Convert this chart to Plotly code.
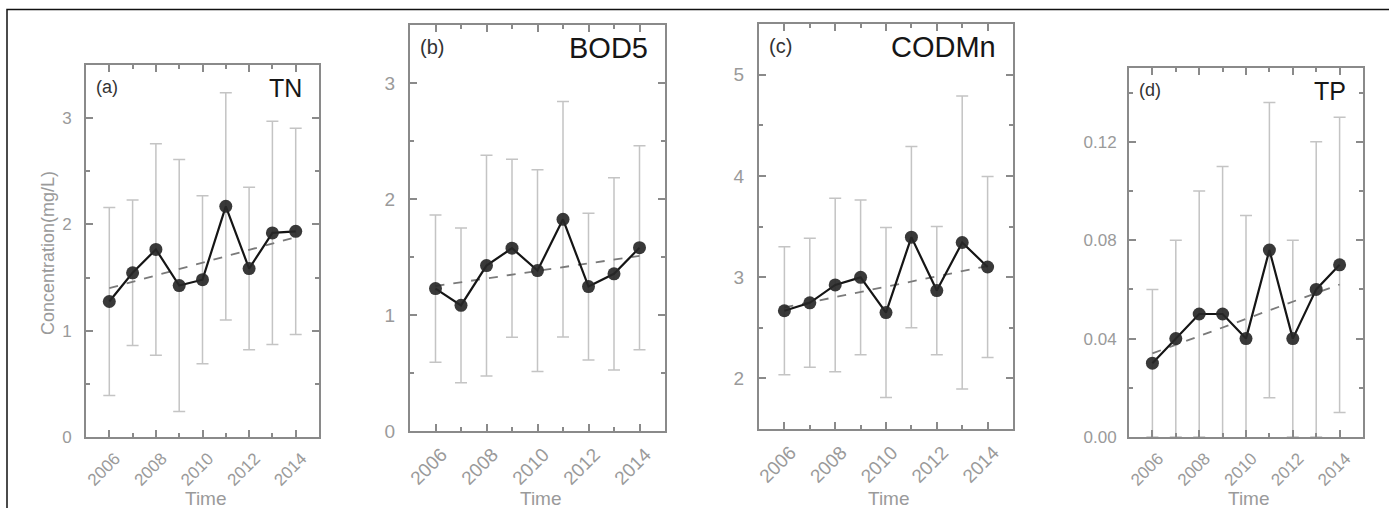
import plotly.graph_objects as go

W, H = 1389, 508

years = [2006, 2007, 2008, 2009, 2010, 2011, 2012, 2013, 2014]
trend_years = [2006, 2014]

tn_mean = [1.275, 1.545, 1.765, 1.425, 1.48, 2.17, 1.585, 1.92, 1.935]
tn_sd = [0.885, 0.685, 0.995, 1.185, 0.79, 1.07, 0.765, 1.05, 0.97]
tn_trend = [1.40, 1.88]

bod_mean = [1.228, 1.083, 1.426, 1.576, 1.383, 1.825, 1.245, 1.355, 1.58]
bod_sd = [0.635, 0.667, 0.952, 0.767, 0.87, 1.015, 0.632, 0.829, 0.88]
bod_trend = [1.25, 1.51]

cod_mean = [2.668, 2.746, 2.923, 2.998, 2.65, 3.395, 2.867, 3.342, 3.10]
cod_sd = [0.632, 0.637, 0.857, 0.764, 0.84, 0.895, 0.633, 1.447, 0.893]
cod_trend = [2.70, 3.11]

tp_mean = [0.030, 0.040, 0.050, 0.050, 0.040, 0.076, 0.040, 0.060, 0.070]
tp_sd = [0.030, 0.040, 0.050, 0.060, 0.050, 0.060, 0.040, 0.060, 0.060]
tp_trend = [0.034, 0.062]

panel_tags = ["(a)", "(b)", "(c)", "(d)"]
panel_names = ["TN", "BOD5", "CODMn", "TP"]
y_ranges = [[0, 3.5], [0, 3.5], [1.5, 5.5], [0, 0.15]]
y_major = [1, 1, 1, 0.04]
y_minor = [0.5, 0.5, 0.5, 0.02]
y_tick0 = [0, 0, 0, 0]
y_fmt = ["", "", "", ".2f"]
y_title = "Concentration(mg/L)"
x_title = "Time"

means = [tn_mean, bod_mean, cod_mean, tp_mean]
sds = [tn_sd, bod_sd, cod_sd, tp_sd]
trends = [tn_trend, bod_trend, cod_trend, tp_trend]

# layout geometry (pixels)
boxes = [(86, 319, 65, 437), (410, 665, 25, 431), (759, 1013, 24, 429), (1129, 1363, 68, 437)]
tick_font = [17, 19, 19, 17]
title_font = [25, 29, 29, 25]
tag_font = [18, 20, 20, 18]
standoff = [9, 9, 9, 7]

FONT = "Liberation Sans, Arial, sans-serif"
GRAY_TXT = "#9a9a9a"
AXIS = "#8a8a8a"

def px_x(x):
    return x / W

def px_y(y):
    return 1 - y / H

fig = go.Figure()
annotations = []
for i in range(4):
    sfx = "" if i == 0 else str(i + 1)
    xa, ya = "x" + sfx, "y" + sfx
    # error bars
    fig.add_trace(go.Scatter(
        x=years, y=means[i], mode="markers", xaxis=xa, yaxis=ya,
        marker=dict(size=1, color="rgba(0,0,0,0)"),
        error_y=dict(type="data", array=sds[i], visible=True, color="#c4c4c4",
                     thickness=1.5, width=6),
        showlegend=False, hoverinfo="skip"))
    # trend
    fig.add_trace(go.Scatter(
        x=trend_years, y=trends[i], mode="lines", xaxis=xa, yaxis=ya,
        line=dict(color="#7a7a7a", width=1.8, dash="dash"), showlegend=False))
    # mean line
    fig.add_trace(go.Scatter(
        x=years, y=means[i], mode="lines+markers", xaxis=xa, yaxis=ya,
        line=dict(color="#151515", width=2.2),
        marker=dict(size=13, color="rgba(40,40,40,0.92)"),
        showlegend=False))

    x0, x1, y0, y1 = boxes[i]
    fig.layout["xaxis" + sfx] = dict(
        domain=[px_x(x0), px_x(x1)], anchor=ya, range=[2005, 2015], automargin=False,
        tick0=2006, dtick=2, ticks="inside", ticklen=7, tickwidth=1.5, tickcolor=AXIS,
        minor=dict(dtick=1, tick0=2006, ticks="inside", ticklen=4, tickwidth=1.5, tickcolor=AXIS, showgrid=False),
        showline=True, linecolor=AXIS, linewidth=2, mirror="ticks",
        showgrid=False, zeroline=False, tickangle=-45,
        ticklabelshift=6, ticklabelstandoff=3,
        tickfont=dict(family=FONT, size=tick_font[i], color=GRAY_TXT))
    fig.layout["yaxis" + sfx] = dict(
        domain=[px_y(y1), px_y(y0)], anchor=xa, range=y_ranges[i], automargin=False,
        tick0=y_tick0[i], dtick=y_major[i], tickformat=y_fmt[i],
        ticks="inside", ticklen=7, tickwidth=1.5, tickcolor=AXIS,
        minor=dict(dtick=y_minor[i], ticks="inside", ticklen=4, tickwidth=1.5, tickcolor=AXIS, showgrid=False),
        showline=True, linecolor=AXIS, linewidth=2, mirror="ticks",
        showgrid=False, zeroline=False, ticklabelstandoff=standoff[i],
        tickfont=dict(family=FONT, size=tick_font[i], color=GRAY_TXT))

    annotations.append(dict(
        text=panel_tags[i], xref="paper", yref="paper",
        x=px_x(x0 + 8), y=px_y(y0 + 22), xanchor="left", yanchor="middle",
        showarrow=False, font=dict(family=FONT, size=tag_font[i], color="#333333")))
    annotations.append(dict(
        text=panel_names[i], xref="paper", yref="paper",
        x=px_x(x1 - 15), y=px_y(y0 + 23), xanchor="right", yanchor="middle",
        showarrow=False, font=dict(family=FONT, size=title_font[i], color="#161616")))
    annotations.append(dict(
        text=x_title, xref="paper", yref="paper",
        x=px_x((x0 + x1) / 2 + 3), y=px_y(498), xanchor="center", yanchor="middle",
        showarrow=False, font=dict(family=FONT, size=19, color=GRAY_TXT)))

annotations.append(dict(
    text=y_title, xref="paper", yref="paper", textangle=-90,
    x=px_x(48), y=px_y(253), xanchor="center", yanchor="middle",
    showarrow=False, font=dict(family=FONT, size=18, color=GRAY_TXT)))

fig.update_layout(
    width=W, height=H, margin=dict(l=0, r=0, t=0, b=0, autoexpand=False),
    paper_bgcolor="white", plot_bgcolor="white",
    annotations=annotations,
    shapes=[dict(type="rect", xref="paper", yref="paper",
                 x0=px_x(7), x1=1.05, y0=-0.1, y1=px_y(9.5),
                 line=dict(color="#111111", width=1.5))])

fig.write_html("out.html", config={"displayModeBar": False},
               post_script="document.body.style.margin='0';document.body.style.overflow='hidden';")
